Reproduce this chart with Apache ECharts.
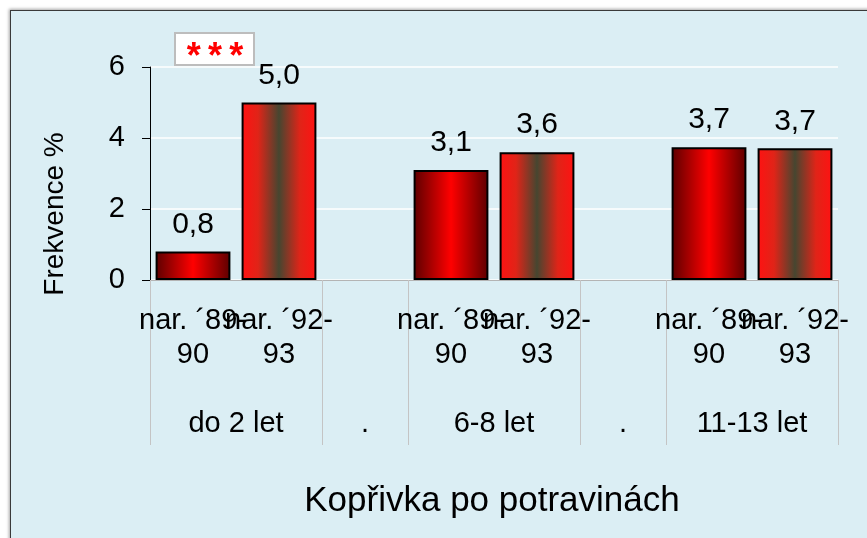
<!DOCTYPE html>
<html>
<head>
<meta charset="utf-8">
<script src="https://cdn.jsdelivr.net/npm/echarts@6/dist/echarts.min.js"></script>
<style>
  html, body { margin: 0; padding: 0; background: #fff; overflow: hidden; }
  /* light blue panel with dark edge, like the Excel chart area */
  #frame {
    position: absolute; left: 10px; top: 10px; width: 900px; height: 600px;
    background: #dbeef4; border-left: 1px solid #3a3a3a; border-top: 1px solid #3a3a3a;
    box-shadow: -1px -1px 3px rgba(0, 0, 0, 0.35);
  }
  #chart { position: absolute; left: 0; top: 0; width: 867px; height: 538px; }
</style>
</head>
<body>
<div id="frame"></div>
<div id="chart"></div>
<script>
// categories of the first axis row (empty slots are the gaps between age groups)
var categories = ['nar. ´89-90', 'nar. ´92-93', '', 'nar. ´89-90', 'nar. ´92-93', '', 'nar. ´89-90', 'nar. ´92-93'];
// second axis row: group names and how many slots each one covers
var groupNames = ['do 2 let', '.', '6-8 let', '.', '11-13 let'];
var groupSpans = [2, 1, 2, 1, 2];
// values in %
var born8990 = [0.8, '-', '-', 3.1, '-', '-', 3.74, '-'];
var born9293 = ['-', 5.0, '-', '-', 3.6, '-', '-', 3.71];
// y axis
var yMin = 0, yMax = 6, yStep = 2;
var chartTitle = 'Kopřivka po potravinách';
var yName = 'Frekvence %';
var marker = '*\u2009*\u2009*';

(function () {
  var myChart = echarts.init(document.getElementById('chart'));
  var font = "'Liberation Sans', Arial, sans-serif";

  // boundaries and centres of the groups, in slot units
  var bounds = [0], centers = [];
  groupSpans.forEach(function (s, i) {
    centers.push(bounds[i] + s / 2);
    bounds.push(bounds[i] + s);
  });

  function decimal(p) {
    return p.value.toFixed(1).replace('.', ',');
  }

  var option = {
    backgroundColor: 'transparent',
    textStyle: { fontFamily: font },
    title: {
      text: chartTitle,
      left: 487,
      top: 479,
      textAlign: 'center',
      textStyle: { color: '#000', fontSize: 35, fontWeight: 'normal', fontFamily: font }
    },
    graphic: [{
      // y axis title
      type: 'text',
      x: 55,
      y: 214,
      rotation: Math.PI / 2,
      style: {
        text: yName,
        fill: '#000',
        font: '28px ' + font,
        textAlign: 'center',
        textVerticalAlign: 'middle'
      }
    }, {
      // significance box
      type: 'group',
      left: 174,
      top: 32,
      children: [{
        type: 'rect',
        shape: { x: 0, y: 0, width: 79, height: 32 },
        style: { fill: '#fff', stroke: '#bdbdbd', lineWidth: 2 }
      }, {
        type: 'text',
        x: 40,
        y: 25,
        style: {
          text: marker,
          fill: '#ff0000',
          font: 'bold 36px ' + font,
          textAlign: 'center',
          textVerticalAlign: 'middle'
        }
      }]
    }],
    grid: { left: 150, right: 29, top: 67, bottom: 258 },
    xAxis: [{
      type: 'category',
      data: categories,
      axisLine: { lineStyle: { color: '#b4b4b4', width: 1 } },
      axisTick: { interval: 0, length: 98, lineStyle: { color: '#c4c4c4' } },
      axisLabel: {
        interval: 0,
        margin: 24,
        color: '#000',
        fontSize: 29,
        lineHeight: 34,
        formatter: function (v) { return v.replace('-', '-\n'); }
      }
    }, {
      // second row of the axis: age groups
      type: 'value',
      position: 'bottom',
      min: 0,
      max: categories.length,
      axisLine: { show: false },
      splitLine: { show: false },
      axisTick: { show: true, customValues: bounds, length: 165, lineStyle: { color: '#c4c4c4' } },
      axisLabel: {
        customValues: centers,
        margin: 129,
        color: '#000',
        fontSize: 29,
        formatter: function (v) {
          var i = centers.indexOf(v);
          return i >= 0 ? groupNames[i] : '';
        }
      }
    }],
    yAxis: {
      type: 'value',
      min: yMin,
      max: yMax,
      interval: yStep,
      axisLine: { show: true, lineStyle: { color: '#000', width: 1 } },
      axisTick: { show: true, length: 8, lineStyle: { color: '#000' } },
      axisLabel: { color: '#000', fontSize: 29, margin: 25 },
      splitLine: { lineStyle: { color: '#fff', width: 1.5 } }
    },
    series: [{
      name: 'nar. ´89-90',
      type: 'bar',
      barWidth: '87%',
      barGap: '-100%',
      data: born8990,
      itemStyle: {
        borderColor: '#000',
        borderWidth: 2,
        color: new echarts.graphic.LinearGradient(0, 0, 1, 0, [
          { offset: 0, color: '#5c0000' },
          { offset: 0.5, color: '#ff0000' },
          { offset: 1, color: '#5c0000' }
        ])
      },
      label: {
        show: true, position: 'top', distance: 12,
        color: '#000', fontSize: 30, formatter: decimal
      }
    }, {
      name: 'nar. ´92-93',
      type: 'bar',
      barWidth: '87%',
      barGap: '-100%',
      data: born9293,
      itemStyle: {
        borderColor: '#000',
        borderWidth: 2,
        color: new echarts.graphic.LinearGradient(0, 0, 1, 0, [
          { offset: 0, color: '#ff1212' },
          { offset: 0.22, color: '#e02418' },
          { offset: 0.5, color: '#464630' },
          { offset: 0.78, color: '#e02418' },
          { offset: 1, color: '#ff1212' }
        ])
      },
      label: {
        show: true, position: 'top', distance: 12,
        color: '#000', fontSize: 30, formatter: decimal
      }
    }]
  };

  myChart.setOption(option);

  window.addEventListener('resize', function () {
    myChart.resize();
  });
})();
</script>
</body>
</html>
